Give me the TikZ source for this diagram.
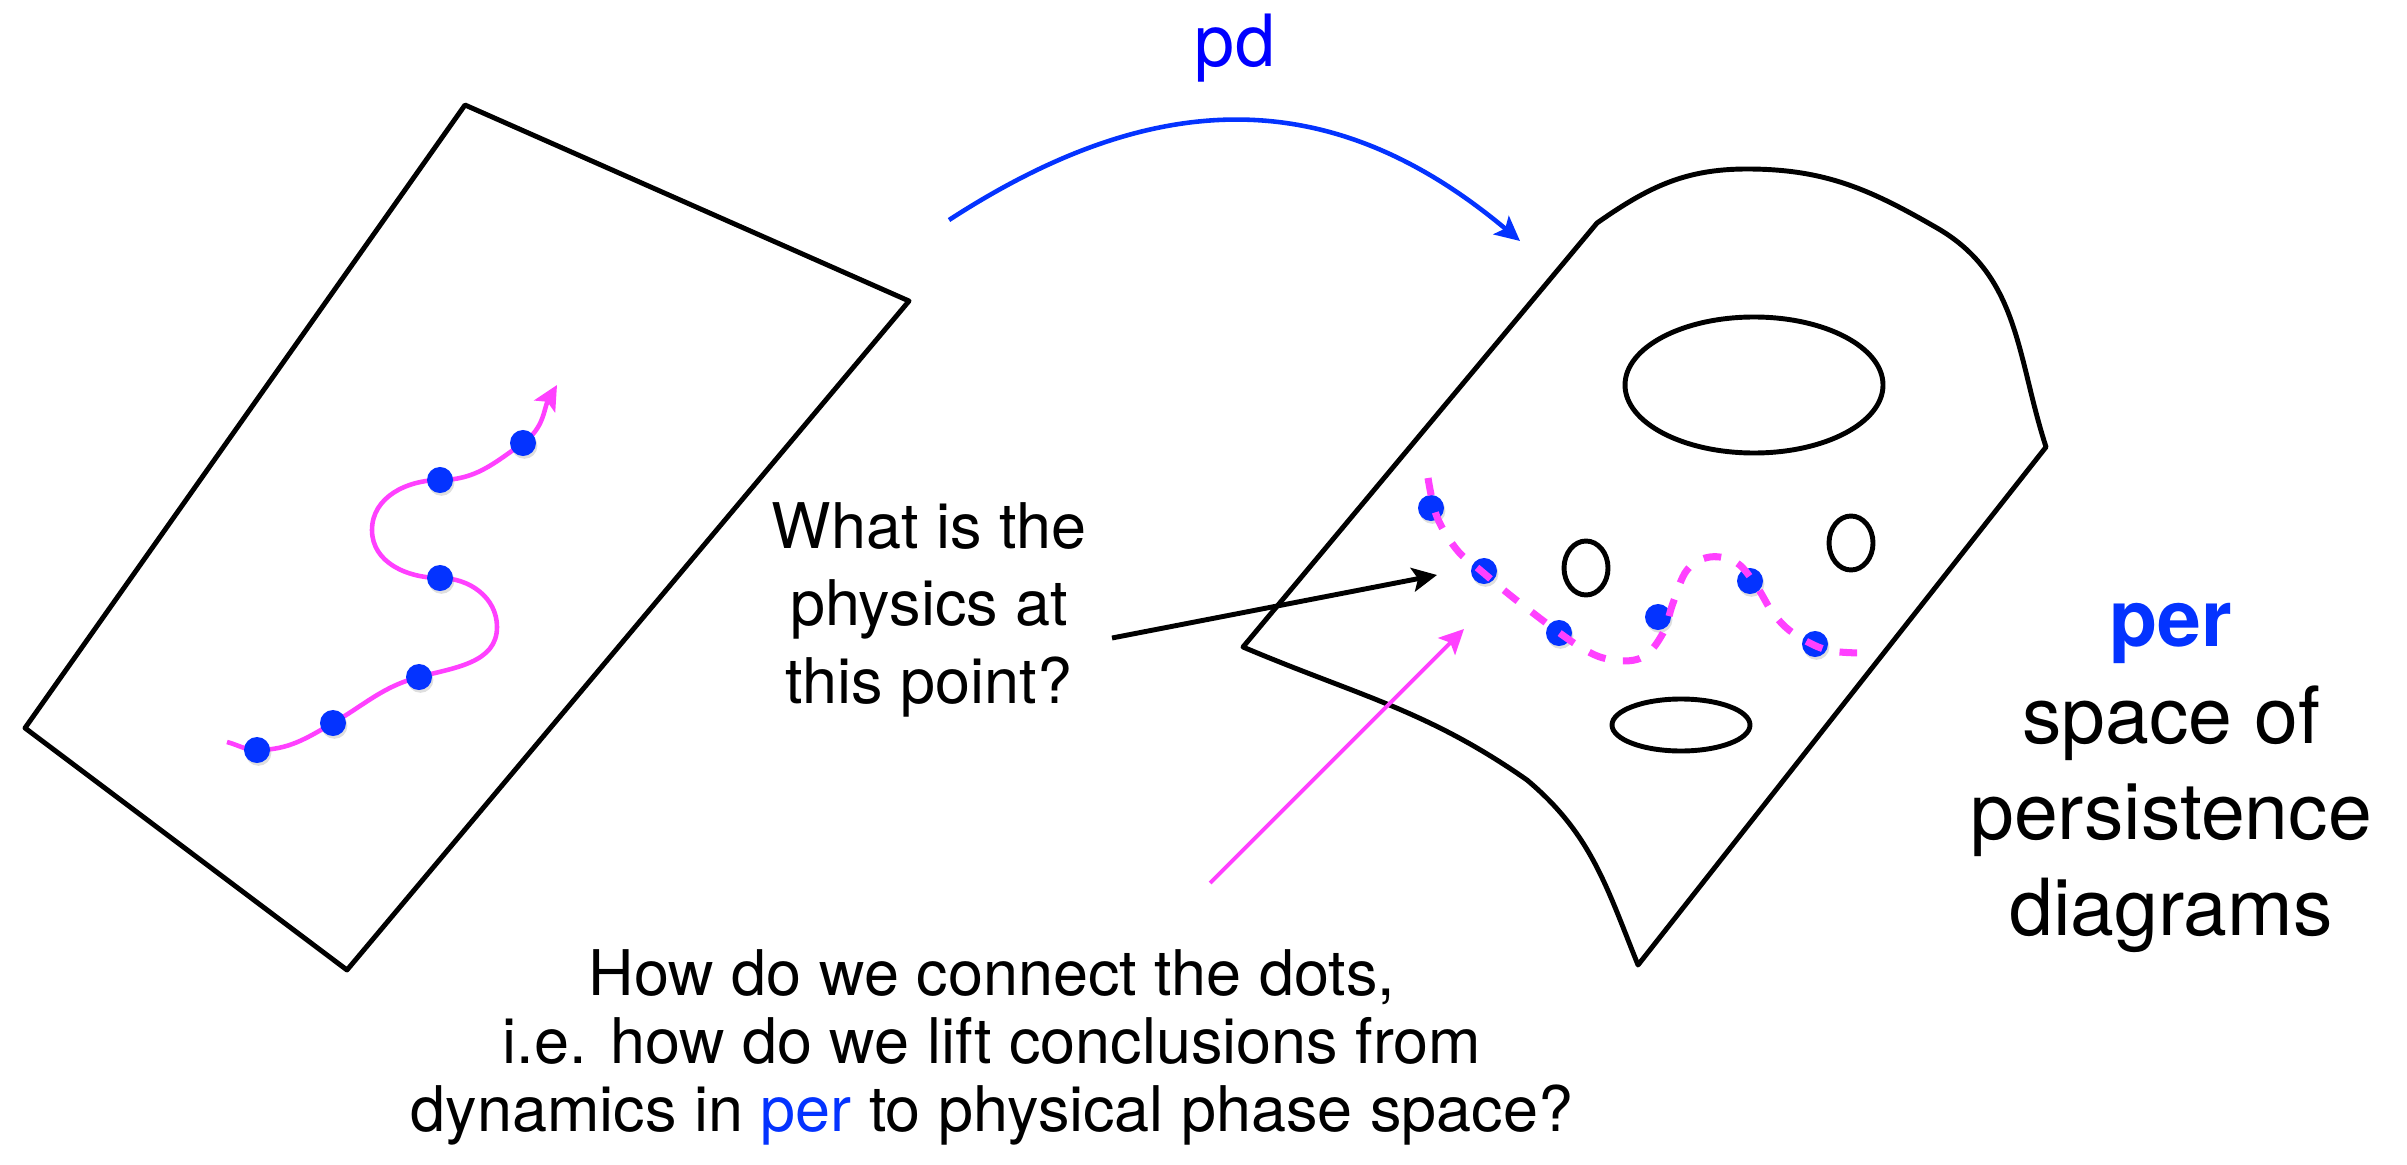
\documentclass[tikz,border=0pt]{standalone}
\usepackage{fontspec}
\setmainfont{TeX Gyre Heros}
\usepackage{tikz}
\usetikzlibrary{arrows.meta,shadows}
\definecolor{dotblue}{RGB}{4,51,255}
\definecolor{pdblue}{RGB}{0,0,255}
\definecolor{trajpink}{RGB}{255,64,255}
\tikzset{
  outline/.style={line width=1.4pt, line join=round},
  traj/.style={trajpink, line width=1.3pt},
  dot/.style={circle, fill=dotblue, inner sep=0pt, minimum size=0.26cm,
    drop shadow={opacity=0.25, shadow xshift=0.4pt, shadow yshift=-0.8pt}},
}
\begin{document}
\begin{tikzpicture}[x=0.01cm, y=-0.01cm, >={Stealth[length=7pt,width=6.8pt,inset=1.5pt]}]
  \useasboundingbox (0,0) rectangle (2407,1164);
  % physical phase space
  \draw[outline] (465,105) -- (909,301) -- (347,970) -- (25,728) -- cycle;
  \draw[traj, ->] (227,742) to[out=-15,in=180] (257,750) to[out=0,in=210] (333,723)
    to[out=30,in=195] (419,677) to[out=15,in=-90] (497,627) to[out=90,in=0] (440,578)
    to[out=180,in=-90] (372,530) to[out=90,in=180] (440,480) to[out=0,in=215] (523,443)
    to[out=35,in=240] (557,385);
  \foreach \i/\x/\y in {1/257/750, 2/333/723, 3/419/677, 4/440/578, 5/440/480, 6/523/443}
    \node[dot] (x\i) at (\x,\y) {};
  % space of persistence diagrams
  \draw[outline] (1597,223) to[out=35,in=180] (1747,169) to[out=0,in=150] (1937,228)
    to[out=-30,in=108] (2046,447) -- (1638,965) to[out=112,in=-40] (1527,780)
    to[out=145,in=-23] (1243,647) -- cycle;
  \draw[outline] (1754,385) ellipse [x radius=129, y radius=68];
  \draw[outline] (1586,568) ellipse [x radius=22, y radius=27];
  \draw[outline] (1851,543) ellipse [x radius=22, y radius=27];
  \draw[outline] (1681,725) ellipse [x radius=69, y radius=26];
  \foreach \i/\x/\y in {1/1431/508, 2/1484/571, 3/1559/633, 4/1658/617, 5/1750/581, 6/1815/644}
    \node[dot] (d\i) at (\x,\y) {};
  \draw[trajpink, line width=2pt, dash pattern=on 5pt off 5pt] plot[smooth, tension=0.6] coordinates {
    (1428,478) (1437,517) (1457,550) (1480,570) (1520,603) (1580,647) (1613,660) (1643,657)
    (1663,633) (1673,603) (1687,570) (1710,557) (1737,563) (1757,587) (1773,613) (1793,633)
    (1827,650) (1867,653)};
  % map pd
  \node[anchor=base, text=pdblue, font=\fontsize{20.5}{24}\selectfont] (pd) at (1235,67) {pd};
  \coordinate (pdfrom) at (949,220);
  \coordinate (pdto) at (1520,241);
  \draw[dotblue, line width=1.3pt, ->] (pdfrom) to[out=33,in=140,looseness=1.1] (pdto);
  % questions
  \node[anchor=base, align=center, font=\fontsize{17.9}{21.9}\selectfont] (what) at (929,703)
    {What is the\\physics at\\this point?};
  \coordinate (whatfrom) at (1112,638);
  \coordinate (whatto) at (1437,575);
  \draw[line width=1.4pt, ->] (whatfrom) -- (whatto);
  \node[anchor=base, align=center, font=\fontsize{22.4}{27.3}\selectfont] (per) at (2171,935)
    {\textcolor{dotblue}{\textbf{per}}\\space of\\persistence\\diagrams};
  \node[anchor=base, align=center, font=\fontsize{17.9}{19.3}\selectfont] (howto) at (992,1131)
    {How do we connect the dots,\\i.e. how do we lift conclusions from\\dynamics in \textcolor{dotblue}{per} to physical phase space?};
  \coordinate (howfrom) at (1210,883);
  \coordinate (howto) at (1464,629);
  \draw[trajpink, line width=1.1pt, ->] (howfrom) -- (howto);
\end{tikzpicture}
\end{document}
